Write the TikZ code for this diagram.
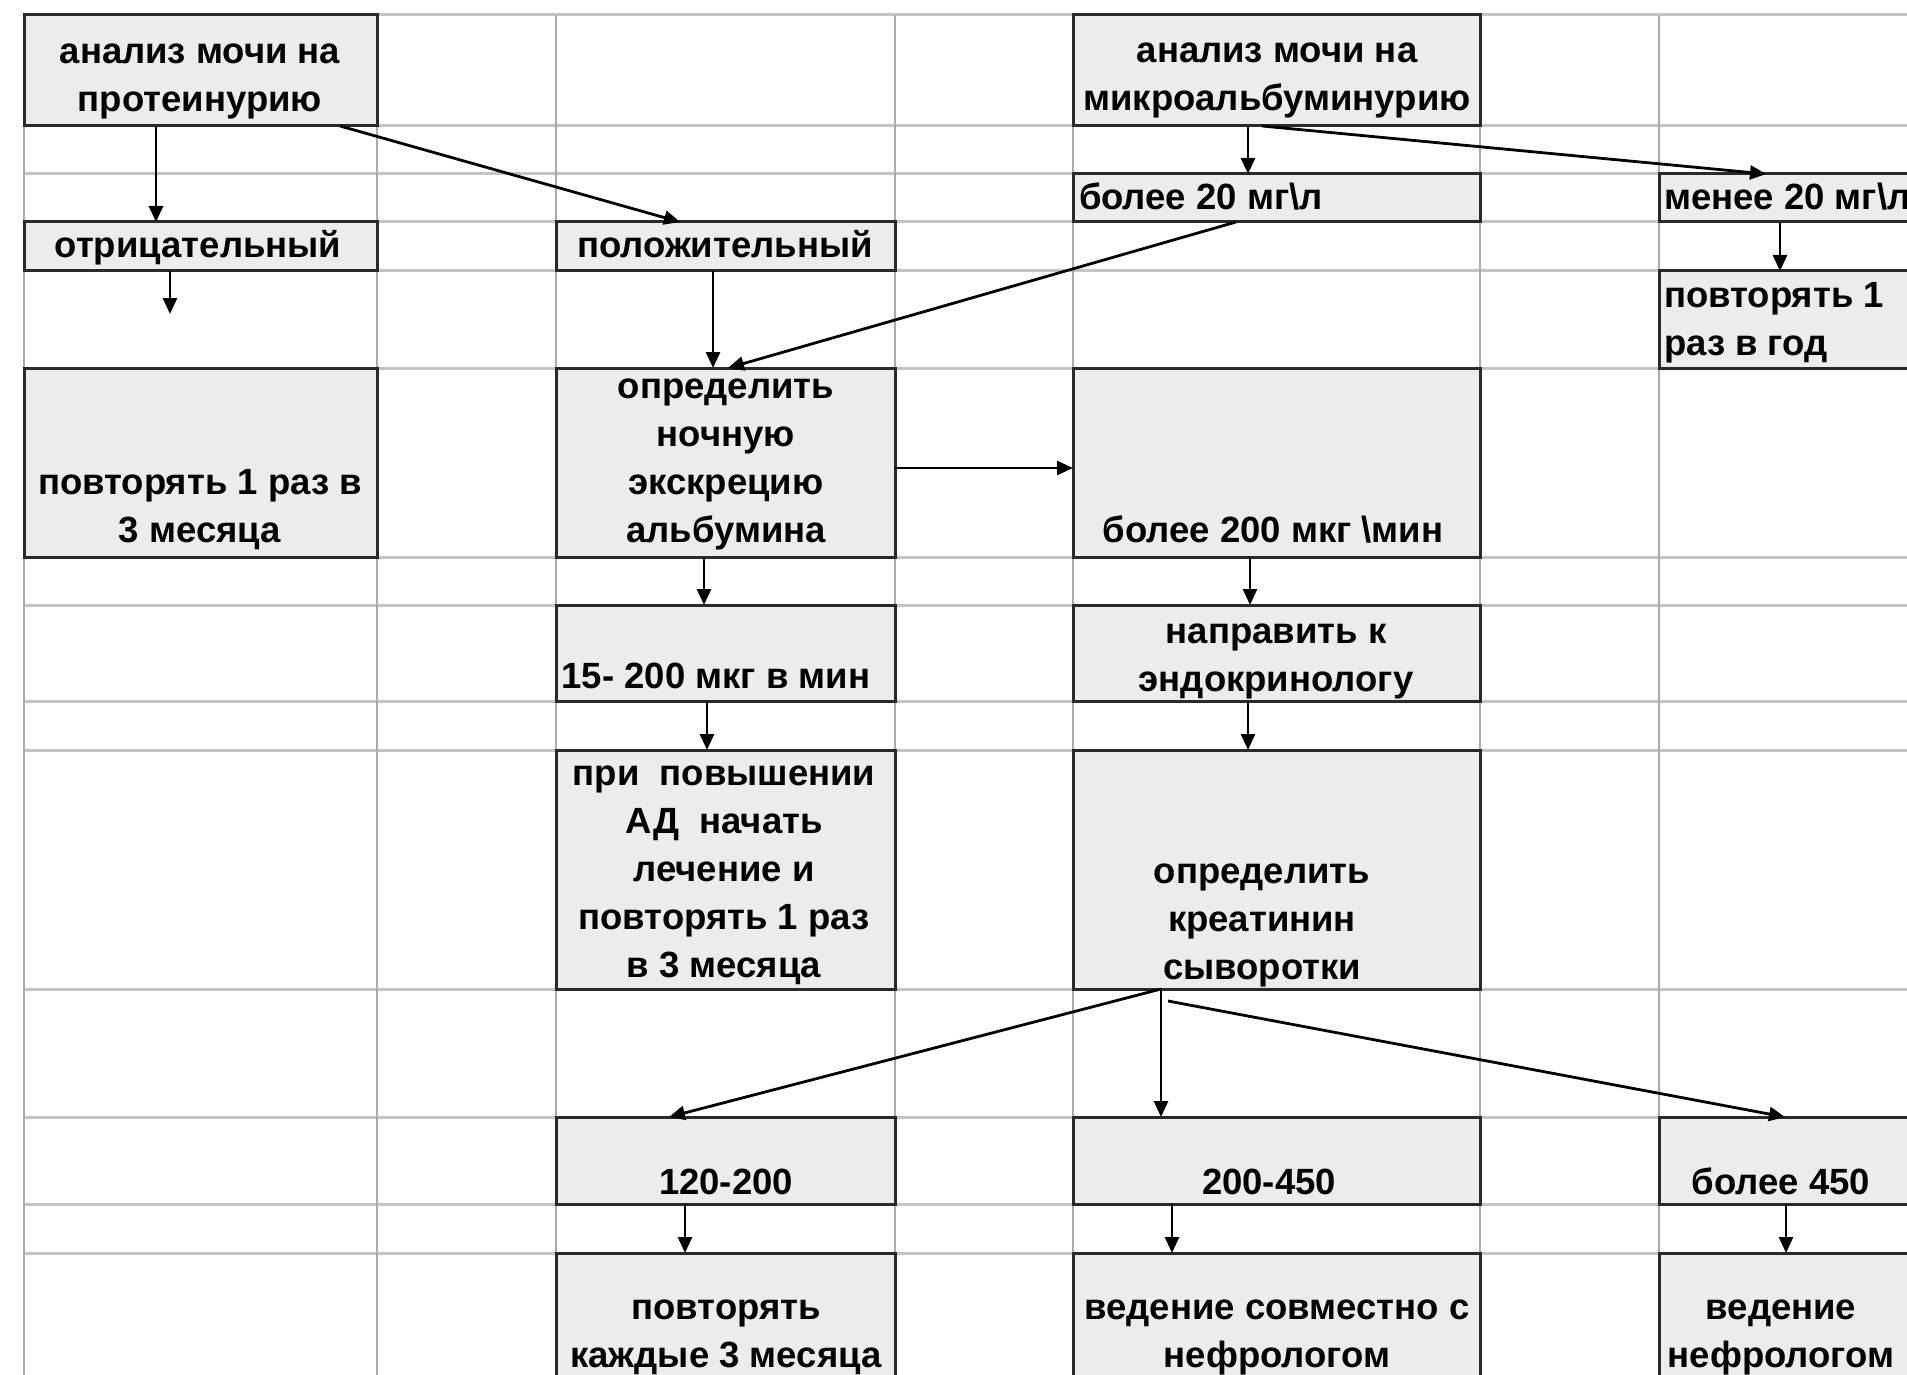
\documentclass[tikz,border=0pt]{standalone}
\usepackage{fontspec}
\setmainfont{Liberation Sans}
\usetikzlibrary{arrows.meta,fit}
\definecolor{cellfill}{HTML}{ECECEC}
\definecolor{gridc}{HTML}{C4C4C4}
\definecolor{vgridc}{HTML}{ABABAB}
\definecolor{edge}{HTML}{2A2A2A}
\tikzset{
  box/.style={draw=edge, line width=3pt, fill=cellfill, inner sep=0pt, outer sep=0pt, rectangle},
  txt/.style={font=\bfseries\fontsize{36.5}{48}\selectfont, align=center, inner sep=0pt, outer sep=0pt},
  ltxt/.style={txt, align=left},
  arr/.style={draw=black, line width=2.8pt, -{Triangle[length=16pt,width=14pt]}},
  hgrid/.style={draw=gridc, line width=3pt},
  vgrid/.style={draw=vgridc, line width=1.5pt}
}
\begin{document}
\begin{tikzpicture}[x=1pt,y=-1pt]
\useasboundingbox (0,0) rectangle (1907,1375);
\clip (0,0) rectangle (1907,1375);
\fill[white] (0,0) rectangle (1907,1375);
% grid
\foreach \yy in {15,126,174,222,271,368,557,605,701,750,989,1117,1204,1253}
  \draw[hgrid] (24,\yy) -- (1907,\yy);
\foreach \xx in {24,377,556,895,1073,1480,1659}
  \draw[vgrid] (\xx,15) -- (\xx,1375);
% boxes
\node[box, fit={(24,15)(377,126)}] (A) {};
\node[box, fit={(24,222)(377,271)}] (neg) {};
\node[box, fit={(556,222)(895,271)}] (pos) {};
\node[box, fit={(24,368)(377,557)}] (rep3m) {};
\node[box, fit={(556,368)(895,557)}] (opr) {};
\node[box, fit={(556,605)(895,701)}] (r15) {};
\node[box, fit={(556,750)(895,989)}] (adbox) {};
\node[box, fit={(556,1117)(895,1204)}] (r120) {};
\node[box, fit={(556,1253)(895,1395)}] (rep3) {};
\node[box, fit={(1073,15)(1480,126)}] (mau) {};
\node[box, fit={(1073,174)(1480,222)}] (m20) {};
\node[box, fit={(1073,368)(1480,557)}] (b200) {};
\node[box, fit={(1073,605)(1480,701)}] (endo) {};
\node[box, fit={(1073,750)(1480,989)}] (kreat) {};
\node[box, fit={(1073,1117)(1480,1204)}] (r200) {};
\node[box, fit={(1073,1253)(1480,1395)}] (sovm) {};
\node[box, fit={(1659,174)(1925,222)}] (l20) {};
\node[box, fit={(1659,271)(1925,368)}] (rep1y) {};
\node[box, fit={(1659,1117)(1925,1204)}] (r450) {};
\node[box, fit={(1659,1253)(1925,1395)}] (nef) {};
% texts (anchor = baseline of the last line)
\node[txt, anchor=base] (At) at (200,112) {анализ мочи на\\протеинурию};
\node[txt, anchor=base] (negt) at (198,258) {отрицательный};
\node[txt, anchor=base] (post) at (725,258) {положительный};
\node[txt, anchor=base] (rep3mt) at (200,542) {повторять 1 раз в\\3 месяца};
\node[txt, anchor=base] (oprt) at (726,542) {определить\\ночную\\экскрецию\\альбумина};
\node[txt, anchor=base] (r15t) at (716,688) {15- 200 мкг в мин};
\node[txt, anchor=base] (adt) at (724,977) {при\ \ повышении\\АД\ \ начать\\лечение и\\повторять 1 раз\\в 3 месяца};
\node[txt, anchor=base] (r120t) at (726,1194) {120-200};
\node[txt, anchor=base] (rep3t) at (726,1367) {повторять\\каждые 3 месяца};
\node[txt, anchor=base] (maut) at (1277,111) {анализ мочи на\\микроальбуминурию};
\node[ltxt, anchor=base west] (m20t) at (1079,210) {более 20 мг\textbackslash л};
\node[txt, anchor=base] (b200t) at (1273,542) {более 200 мкг \textbackslash мин};
\node[txt, anchor=base] (endot) at (1276,691) {направить к\\эндокринологу};
\node[txt, anchor=base] (kreatt) at (1262,979) {определить\\креатинин\\сыворотки};
\node[txt, anchor=base] (r200t) at (1269,1194) {200-450};
\node[txt, anchor=base] (sovmt) at (1277,1367) {ведение совместно с\\нефрологом};
\node[ltxt, anchor=base west] (l20t) at (1664,210) {менее 20 мг\textbackslash л};
\node[ltxt, anchor=base west] (rep1yt) at (1664,355) {повторять 1\\раз в год};
\node[txt, anchor=base] (r450t) at (1781,1194) {более 450};
\node[txt, anchor=base] (neft) at (1781,1367) {ведение\\нефрологом};
% connectors
\coordinate (negend) at (170,314);
\draw[arr] ([xshift=132pt]A.south west) -- ([xshift=132pt]neg.north west);
\draw[arr] ([xshift=316pt]A.south west) -- ([xshift=124pt]pos.north west);
\draw[arr] ([xshift=146pt]neg.south west) -- (negend);
\draw[arr] ([xshift=157pt]pos.south west) -- ([xshift=157pt]opr.north west);
\draw[arr] ([xshift=163pt]m20.south west) -- ([xshift=172pt]opr.north west);
\draw[arr] ([xshift=175pt]mau.south west) -- ([xshift=175pt]m20.north west);
\draw[arr] ([xshift=189pt]mau.south west) -- ([xshift=107pt]l20.north west);
\draw[arr] ([xshift=121pt]l20.south west) -- ([xshift=121pt]rep1y.north west);
\draw[arr] ([yshift=-5.5pt]opr.east) -- ([yshift=-5.5pt]b200.west);
\draw[arr] ([xshift=148pt]opr.south west) -- ([xshift=148pt]r15.north west);
\draw[arr] ([xshift=151pt]r15.south west) -- ([xshift=151pt]adbox.north west);
\draw[arr] ([xshift=177pt]b200.south west) -- ([xshift=177pt]endo.north west);
\draw[arr] ([xshift=175pt]endo.south west) -- ([xshift=175pt]kreat.north west);
\draw[arr] ([xshift=88pt]kreat.south west) -- ([xshift=113pt]r120.north west);
\draw[arr] ([xshift=88pt]kreat.south west) -- ([xshift=88pt]r200.north west);
\draw[arr] ([xshift=95pt,yshift=-12pt]kreat.south west) -- ([xshift=126pt]r450.north west);
\draw[arr] ([xshift=129pt]r120.south west) -- ([xshift=129pt]rep3.north west);
\draw[arr] ([xshift=99pt]r200.south west) -- ([xshift=99pt]sovm.north west);
\draw[arr] ([xshift=127pt]r450.south west) -- ([xshift=127pt]nef.north west);
\end{tikzpicture}
\end{document}
